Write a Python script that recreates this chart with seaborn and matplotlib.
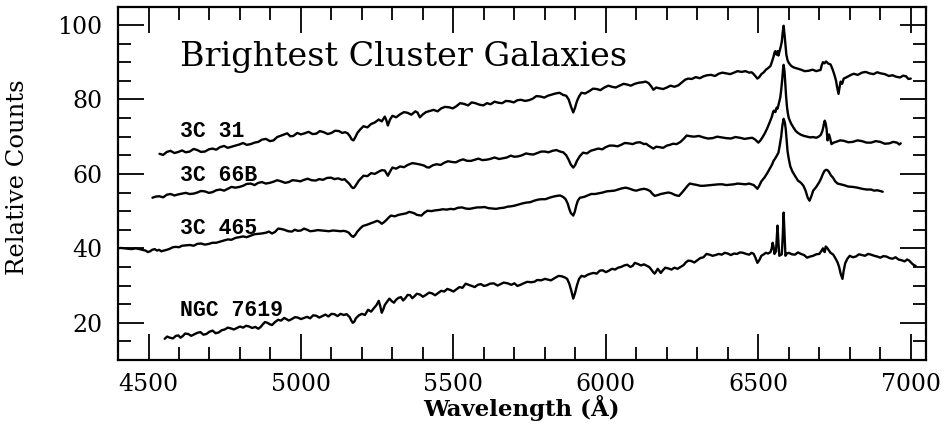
import pandas as pd
import seaborn as sns
import matplotlib.pyplot as plt
from matplotlib.ticker import MultipleLocator

# spectra: (wavelength in A, relative counts)
spec_3c31 = [
    (4536, 65.4), (4548, 65.1), (4560, 65.9), (4572, 66.2), (4585, 65.6), (4598, 65.9),
    (4610, 66.3), (4622, 65.8), (4635, 66.0), (4648, 66.7), (4660, 66.4), (4672, 65.9),
    (4685, 66.0), (4698, 66.6), (4710, 66.8), (4722, 66.5), (4735, 67.2), (4748, 67.5),
    (4760, 67.0), (4772, 67.3), (4785, 67.6), (4798, 67.9), (4810, 68.3), (4822, 67.8),
    (4835, 68.0), (4848, 68.4), (4860, 68.6), (4872, 69.2), (4885, 69.4), (4898, 68.8),
    (4910, 69.0), (4922, 69.9), (4935, 70.3), (4945, 70.6), (4955, 70.9), (4965, 70.1),
    (4975, 70.2), (4988, 71.0), (5000, 70.6), (5012, 70.9), (5025, 71.3), (5038, 70.7),
    (5050, 70.8), (5062, 71.5), (5075, 71.2), (5088, 70.7), (5100, 71.0), (5112, 71.6),
    (5125, 71.5), (5135, 71.0), (5145, 71.2), (5153, 70.9), (5160, 70.2), (5166, 69.3),
    (5172, 69.0), (5178, 69.8), (5185, 71.0), (5195, 72.0), (5205, 72.8), (5218, 72.5),
    (5230, 73.4), (5242, 73.8), (5255, 74.6), (5265, 74.1), (5275, 75.4), (5280, 74.4),
    (5285, 73.0), (5292, 74.6), (5300, 75.6), (5312, 75.2), (5325, 76.0), (5338, 76.6),
    (5350, 76.4), (5362, 75.9), (5375, 76.8), (5382, 76.5), (5390, 75.2), (5400, 76.0),
    (5410, 76.6), (5422, 76.9), (5435, 77.2), (5448, 76.8), (5460, 77.6), (5472, 78.0),
    (5485, 77.9), (5498, 77.6), (5510, 78.2), (5522, 79.0), (5535, 78.8), (5548, 78.4),
    (5560, 79.2), (5572, 79.0), (5585, 78.6), (5598, 78.4), (5610, 79.0), (5622, 78.7),
    (5635, 79.4), (5648, 79.1), (5660, 79.0), (5672, 79.6), (5685, 79.5), (5698, 79.2),
    (5710, 79.8), (5722, 79.9), (5735, 79.6), (5748, 79.8), (5760, 80.2), (5772, 80.9),
    (5785, 80.8), (5798, 80.5), (5810, 81.0), (5822, 81.3), (5835, 81.6), (5848, 81.8),
    (5860, 81.2), (5870, 81.0), (5878, 80.0), (5886, 78.0), (5893, 76.5), (5899, 77.8),
    (5905, 79.5), (5912, 80.8), (5920, 81.8), (5932, 81.6), (5945, 82.2), (5958, 82.9),
    (5970, 82.8), (5982, 82.5), (5995, 83.2), (6008, 83.7), (6020, 83.4), (6032, 83.2),
    (6045, 83.7), (6058, 84.2), (6070, 84.0), (6082, 83.7), (6095, 84.2), (6108, 84.5),
    (6120, 84.6), (6130, 84.8), (6140, 84.4), (6148, 83.6), (6156, 82.6), (6165, 83.2),
    (6175, 83.0), (6188, 82.8), (6200, 83.2), (6212, 83.7), (6225, 83.4), (6238, 83.8),
    (6250, 84.6), (6260, 85.3), (6270, 85.6), (6282, 85.5), (6295, 86.0), (6308, 85.7),
    (6320, 86.2), (6332, 86.5), (6345, 86.6), (6358, 86.3), (6370, 86.9), (6382, 87.2),
    (6395, 87.0), (6408, 86.8), (6420, 87.2), (6432, 87.6), (6445, 87.4), (6458, 87.6),
    (6470, 87.2), (6478, 87.3), (6485, 86.8), (6491, 86.2), (6497, 85.6), (6503, 86.0),
    (6510, 86.8), (6518, 87.3), (6525, 88.0), (6532, 88.4), (6540, 89.0), (6545, 90.2),
    (6550, 91.5), (6553, 92.6), (6556, 93.0), (6559, 92.1), (6562, 92.0), (6564, 93.0),
    (6566, 91.8), (6570, 93.0), (6573, 94.0), (6577, 95.5), (6580, 98.0), (6583, 99.8),
    (6587, 96.5), (6592, 92.0), (6596, 90.5), (6600, 89.8), (6608, 89.0), (6616, 88.6),
    (6628, 88.3), (6640, 88.0), (6652, 87.6), (6665, 87.7), (6678, 88.0), (6690, 87.6),
    (6698, 87.8), (6704, 87.9), (6708, 89.2), (6712, 90.0), (6717, 89.7), (6722, 90.2),
    (6730, 89.6), (6737, 89.4), (6744, 88.0), (6750, 86.5), (6755, 85.0), (6758, 83.5),
    (6763, 81.5), (6767, 83.5), (6770, 84.8), (6775, 84.2), (6780, 85.6), (6788, 85.9),
    (6795, 86.2), (6804, 86.6), (6813, 86.9), (6826, 86.6), (6840, 87.2), (6852, 87.4),
    (6865, 87.0), (6878, 86.8), (6890, 87.3), (6902, 87.0), (6915, 86.8), (6928, 86.3),
    (6940, 86.5), (6952, 86.1), (6965, 85.9), (6975, 86.4), (6985, 86.2), (6992, 85.5),
    (7000, 85.6),
]

spec_3c66b = [
    (4513, 53.6), (4524, 53.9), (4535, 54.0), (4548, 53.7), (4560, 54.4), (4572, 54.6),
    (4585, 54.2), (4598, 54.5), (4610, 54.7), (4622, 54.9), (4635, 54.6), (4648, 54.7),
    (4660, 55.0), (4672, 55.4), (4685, 55.3), (4698, 54.9), (4710, 55.1), (4722, 55.6),
    (4735, 55.8), (4748, 55.5), (4760, 56.0), (4772, 56.5), (4785, 56.3), (4798, 56.5),
    (4810, 56.8), (4822, 57.3), (4835, 57.4), (4848, 57.0), (4860, 57.6), (4872, 57.8),
    (4885, 57.4), (4898, 57.6), (4910, 57.9), (4922, 58.3), (4935, 58.0), (4948, 57.6),
    (4960, 57.8), (4972, 58.3), (4985, 58.2), (4998, 58.0), (5010, 58.4), (5022, 58.7),
    (5035, 58.3), (5048, 58.2), (5060, 58.6), (5072, 58.4), (5085, 58.9), (5098, 59.0),
    (5110, 58.6), (5122, 58.8), (5135, 58.4), (5143, 58.6), (5150, 58.0), (5158, 57.4),
    (5165, 56.6), (5170, 56.2), (5175, 56.3), (5182, 57.2), (5190, 58.2), (5198, 58.9),
    (5205, 59.5), (5218, 59.4), (5230, 60.2), (5242, 60.0), (5255, 60.6), (5265, 61.0),
    (5275, 60.9), (5280, 60.2), (5285, 59.5), (5292, 60.6), (5300, 61.7), (5312, 61.4),
    (5325, 62.0), (5338, 61.8), (5350, 62.4), (5365, 62.9), (5380, 62.7), (5392, 62.5),
    (5405, 62.2), (5412, 61.8), (5420, 61.7), (5432, 62.3), (5445, 62.6), (5458, 62.4),
    (5470, 63.0), (5482, 63.4), (5495, 63.2), (5508, 63.1), (5520, 63.6), (5532, 63.9),
    (5545, 63.5), (5558, 63.5), (5570, 63.8), (5582, 64.1), (5595, 63.7), (5608, 63.8),
    (5620, 64.0), (5635, 64.4), (5650, 64.0), (5662, 64.2), (5675, 64.4), (5688, 64.9),
    (5700, 64.6), (5712, 64.7), (5725, 65.0), (5738, 65.5), (5750, 65.3), (5762, 65.2),
    (5775, 65.6), (5788, 66.0), (5800, 66.0), (5812, 65.8), (5825, 66.2), (5838, 66.4),
    (5850, 66.0), (5860, 65.8), (5870, 65.0), (5878, 63.8), (5885, 62.5), (5893, 61.7),
    (5899, 62.3), (5905, 63.5), (5915, 64.8), (5925, 65.7), (5938, 65.5), (5950, 66.2),
    (5962, 66.5), (5975, 66.8), (5988, 66.6), (6000, 67.2), (6012, 67.6), (6025, 67.6),
    (6038, 67.4), (6050, 67.8), (6062, 68.3), (6075, 68.2), (6088, 68.0), (6100, 68.4),
    (6112, 68.5), (6125, 68.0), (6132, 68.1), (6140, 67.6), (6148, 67.2), (6156, 66.8),
    (6165, 67.3), (6175, 67.2), (6188, 67.0), (6200, 67.6), (6210, 67.8), (6220, 68.1),
    (6232, 68.0), (6245, 68.6), (6255, 69.4), (6265, 70.3), (6278, 70.1), (6290, 70.0),
    (6305, 70.2), (6320, 69.8), (6335, 69.5), (6350, 69.6), (6365, 70.0), (6380, 69.8),
    (6395, 69.6), (6410, 69.5), (6425, 69.9), (6440, 69.7), (6455, 69.4), (6470, 69.6),
    (6480, 69.7), (6490, 69.2), (6500, 68.4), (6507, 69.0), (6515, 70.0), (6522, 71.0),
    (6530, 72.4), (6538, 74.0), (6545, 75.5), (6549, 76.8), (6552, 77.0), (6556, 76.6),
    (6560, 77.8), (6563, 77.5), (6566, 78.5), (6569, 79.4), (6572, 80.5), (6575, 82.5),
    (6578, 85.0), (6581, 88.0), (6583, 89.3), (6586, 87.5), (6588, 85.0), (6591, 81.0),
    (6594, 78.0), (6597, 76.2), (6600, 75.0), (6607, 73.6), (6615, 72.5), (6622, 71.6),
    (6630, 71.0), (6640, 70.5), (6650, 70.2), (6660, 70.0), (6670, 69.8), (6680, 69.9),
    (6690, 69.7), (6698, 70.0), (6705, 70.5), (6710, 71.5), (6713, 72.5), (6716, 73.8),
    (6718, 74.3), (6721, 73.5), (6724, 72.0), (6727, 69.0), (6729, 69.6), (6732, 70.6),
    (6736, 69.4), (6740, 68.0), (6747, 68.4), (6755, 68.6), (6768, 69.0), (6780, 68.9),
    (6795, 68.5), (6810, 68.6), (6825, 69.0), (6840, 68.8), (6855, 68.4), (6870, 68.4),
    (6885, 68.8), (6900, 68.6), (6915, 68.1), (6930, 68.2), (6942, 68.6), (6955, 68.4),
    (6962, 67.9), (6967, 68.2),
]

spec_3c465 = [
    (4398, 40.0), (4410, 40.1), (4420, 40.0), (4432, 39.9), (4445, 39.8), (4458, 40.0),
    (4470, 39.8), (4480, 39.6), (4490, 39.4), (4498, 39.0), (4505, 39.2), (4512, 39.6),
    (4520, 39.8), (4528, 39.4), (4535, 39.6), (4542, 39.2), (4550, 39.4), (4560, 39.6),
    (4570, 39.9), (4580, 40.3), (4590, 40.4), (4600, 40.3), (4610, 40.7), (4622, 40.8),
    (4635, 40.9), (4648, 40.7), (4660, 41.2), (4672, 41.3), (4685, 41.0), (4698, 41.2),
    (4710, 41.5), (4722, 41.5), (4735, 41.8), (4748, 42.1), (4760, 42.4), (4772, 42.3),
    (4785, 42.8), (4798, 43.0), (4810, 43.2), (4822, 43.0), (4835, 43.4), (4848, 43.8),
    (4860, 43.9), (4872, 44.0), (4885, 44.2), (4895, 44.5), (4905, 44.0), (4915, 44.4),
    (4925, 45.3), (4935, 45.2), (4945, 45.0), (4958, 44.6), (4970, 44.5), (4980, 45.0),
    (4990, 44.7), (5000, 44.8), (5010, 45.3), (5020, 45.0), (5030, 44.6), (5042, 44.7),
    (5055, 44.9), (5068, 44.8), (5080, 44.7), (5092, 44.6), (5105, 44.8), (5118, 44.7),
    (5130, 44.6), (5140, 44.7), (5150, 44.5), (5157, 44.2), (5163, 43.6), (5168, 43.2),
    (5172, 43.1), (5178, 43.6), (5185, 44.5), (5195, 45.4), (5203, 46.0), (5215, 46.3),
    (5225, 46.6), (5238, 47.0), (5250, 47.4), (5258, 47.1), (5265, 46.6), (5272, 47.0),
    (5280, 47.6), (5288, 48.3), (5295, 48.8), (5308, 48.6), (5320, 49.0), (5332, 49.2),
    (5345, 49.4), (5355, 49.8), (5365, 49.6), (5372, 49.4), (5380, 49.0), (5388, 48.9),
    (5395, 48.8), (5405, 49.6), (5415, 50.1), (5428, 50.0), (5440, 50.2), (5452, 50.3),
    (5465, 50.5), (5478, 50.4), (5490, 50.6), (5502, 50.5), (5515, 50.9), (5528, 51.0),
    (5540, 50.7), (5552, 50.6), (5565, 50.8), (5578, 51.0), (5590, 51.0), (5602, 51.1),
    (5615, 50.8), (5628, 50.7), (5640, 50.6), (5652, 50.8), (5665, 50.9), (5678, 51.2),
    (5690, 51.3), (5702, 51.5), (5715, 51.8), (5728, 52.1), (5740, 52.3), (5752, 52.4),
    (5765, 52.8), (5778, 53.1), (5790, 53.2), (5802, 53.2), (5815, 53.6), (5828, 53.9),
    (5840, 54.1), (5850, 54.2), (5860, 53.8), (5868, 53.2), (5875, 52.0), (5880, 50.6),
    (5885, 49.5), (5893, 48.8), (5898, 49.8), (5903, 51.5), (5908, 52.8), (5915, 53.6),
    (5928, 53.8), (5940, 54.2), (5952, 54.6), (5965, 54.6), (5978, 54.8), (5990, 55.0),
    (6002, 55.3), (6015, 55.4), (6028, 55.5), (6040, 55.8), (6052, 56.1), (6065, 56.3),
    (6075, 56.1), (6085, 55.8), (6092, 55.6), (6100, 55.5), (6112, 55.8), (6125, 56.0),
    (6135, 55.8), (6145, 55.4), (6152, 54.7), (6160, 54.1), (6170, 54.3), (6180, 54.6),
    (6192, 54.8), (6205, 55.0), (6215, 54.8), (6225, 54.4), (6232, 54.2), (6240, 54.1),
    (6250, 55.0), (6260, 56.0), (6268, 56.8), (6275, 57.4), (6288, 57.2), (6300, 57.0),
    (6310, 56.8), (6320, 56.8), (6332, 56.9), (6345, 57.0), (6358, 57.1), (6370, 57.2),
    (6382, 57.2), (6395, 57.0), (6408, 57.1), (6420, 57.2), (6432, 57.4), (6445, 57.3),
    (6458, 57.2), (6470, 57.4), (6478, 57.2), (6485, 57.0), (6491, 56.5), (6497, 56.0),
    (6503, 56.8), (6510, 58.0), (6520, 59.0), (6530, 60.3), (6538, 61.5), (6545, 62.5),
    (6550, 63.5), (6555, 64.1), (6560, 64.8), (6566, 65.7), (6570, 67.5), (6575, 70.0),
    (6579, 73.0), (6583, 74.8), (6587, 73.8), (6590, 72.0), (6593, 69.0), (6596, 66.0),
    (6600, 64.0), (6605, 62.0), (6612, 60.6), (6620, 59.5), (6630, 58.2), (6640, 57.6),
    (6648, 56.8), (6655, 55.5), (6662, 53.6), (6668, 52.8), (6674, 54.0), (6680, 55.5),
    (6690, 56.5), (6700, 57.8), (6706, 58.8), (6712, 60.0), (6717, 60.8), (6722, 61.1),
    (6727, 61.0), (6732, 60.5), (6738, 59.6), (6745, 59.0), (6752, 58.0), (6760, 57.4),
    (6770, 57.2), (6780, 57.0), (6795, 56.6), (6810, 56.5), (6825, 56.3), (6840, 56.0),
    (6855, 55.8), (6870, 55.8), (6880, 55.5), (6890, 55.6), (6900, 55.4), (6908, 55.2),
]

spec_ngc7619 = [
    (4553, 15.7), (4561, 16.3), (4570, 16.0), (4580, 15.8), (4590, 16.5), (4598, 16.6),
    (4605, 16.0), (4612, 16.4), (4620, 17.1), (4630, 17.0), (4640, 16.5), (4650, 16.9),
    (4660, 17.3), (4670, 17.5), (4680, 16.8), (4690, 17.0), (4700, 17.6), (4710, 17.9),
    (4720, 17.2), (4730, 17.4), (4740, 18.0), (4750, 18.2), (4760, 18.7), (4770, 18.5),
    (4780, 18.2), (4790, 18.6), (4800, 19.0), (4810, 18.7), (4820, 19.2), (4830, 19.0),
    (4840, 18.6), (4850, 18.9), (4860, 18.4), (4868, 18.9), (4875, 19.6), (4882, 20.2),
    (4890, 20.0), (4898, 19.6), (4905, 19.4), (4915, 20.2), (4925, 20.8), (4935, 20.6),
    (4945, 21.3), (4952, 21.0), (4960, 20.6), (4970, 21.0), (4980, 21.5), (4990, 21.4),
    (5000, 21.0), (5010, 21.3), (5020, 21.6), (5030, 21.2), (5040, 22.0), (5050, 21.9),
    (5060, 21.4), (5070, 21.8), (5080, 22.2), (5090, 21.7), (5100, 22.4), (5110, 22.3),
    (5120, 21.8), (5130, 22.4), (5140, 22.1), (5150, 22.3), (5160, 21.5), (5165, 20.6),
    (5170, 20.0), (5175, 20.3), (5180, 21.2), (5190, 22.0), (5200, 22.4), (5210, 22.1),
    (5220, 23.5), (5230, 23.0), (5240, 24.0), (5248, 24.8), (5255, 25.9), (5260, 24.5),
    (5265, 22.7), (5270, 23.6), (5275, 24.8), (5282, 25.6), (5290, 26.5), (5298, 25.8),
    (5305, 25.4), (5312, 26.2), (5320, 26.7), (5328, 26.9), (5335, 26.0), (5342, 26.6),
    (5350, 27.5), (5358, 27.4), (5365, 26.6), (5372, 27.1), (5380, 27.8), (5390, 27.6),
    (5400, 27.0), (5410, 27.5), (5420, 28.1), (5430, 27.9), (5440, 27.4), (5450, 28.0),
    (5460, 28.6), (5470, 28.4), (5480, 29.1), (5490, 28.8), (5500, 28.4), (5510, 29.0),
    (5520, 29.6), (5530, 29.4), (5540, 30.5), (5550, 30.2), (5560, 29.9), (5570, 29.6),
    (5580, 30.2), (5590, 30.4), (5600, 29.9), (5610, 30.1), (5620, 30.5), (5632, 30.6),
    (5645, 30.0), (5655, 30.4), (5665, 30.8), (5678, 30.6), (5690, 30.2), (5700, 30.6),
    (5710, 29.9), (5720, 30.2), (5730, 30.6), (5742, 31.0), (5755, 30.9), (5765, 31.0),
    (5775, 31.5), (5788, 31.4), (5800, 31.8), (5810, 31.6), (5820, 31.4), (5832, 32.0),
    (5845, 32.6), (5855, 32.5), (5865, 32.2), (5873, 31.8), (5880, 30.5), (5887, 28.5),
    (5893, 26.5), (5899, 28.0), (5905, 30.0), (5912, 31.8), (5920, 32.6), (5930, 32.4),
    (5940, 32.9), (5950, 33.2), (5960, 33.4), (5970, 33.2), (5980, 34.0), (5990, 34.1),
    (6000, 33.6), (6010, 34.0), (6020, 34.5), (6030, 34.3), (6040, 34.8), (6050, 35.0),
    (6060, 35.4), (6070, 35.6), (6080, 35.0), (6088, 35.3), (6095, 36.1), (6105, 35.8),
    (6115, 35.4), (6125, 35.7), (6135, 35.3), (6142, 35.0), (6150, 34.2), (6155, 33.6),
    (6160, 33.2), (6165, 33.8), (6170, 34.5), (6175, 34.0), (6180, 33.4), (6188, 34.2),
    (6195, 34.8), (6205, 34.6), (6215, 34.3), (6225, 34.8), (6235, 34.5), (6245, 35.0),
    (6255, 35.5), (6262, 36.2), (6270, 36.7), (6280, 36.6), (6290, 36.2), (6300, 36.8),
    (6310, 37.4), (6320, 37.6), (6330, 38.5), (6340, 38.3), (6350, 38.0), (6360, 38.2),
    (6370, 38.5), (6380, 38.3), (6390, 38.8), (6400, 38.6), (6410, 38.2), (6420, 38.6),
    (6430, 38.5), (6440, 38.9), (6450, 38.8), (6460, 38.5), (6470, 38.3), (6478, 38.8),
    (6485, 38.5), (6491, 37.4), (6497, 36.1), (6503, 36.8), (6510, 38.0), (6518, 38.4),
    (6525, 38.8), (6532, 38.6), (6540, 39.0), (6544, 40.0), (6547, 41.5), (6550, 40.4),
    (6553, 38.5), (6558, 39.2), (6563, 46.1), (6566, 41.5), (6569, 38.0), (6573, 38.2),
    (6577, 38.4), (6580, 43.0), (6583, 49.6), (6586, 44.0), (6589, 38.0), (6594, 38.6),
    (6600, 38.8), (6610, 38.4), (6620, 38.3), (6630, 38.9), (6640, 38.5), (6650, 38.2),
    (6660, 37.5), (6670, 37.8), (6680, 38.0), (6690, 38.4), (6700, 38.5), (6706, 39.2),
    (6712, 40.0), (6715, 39.2), (6718, 39.0), (6721, 40.5), (6725, 40.2), (6731, 39.5),
    (6737, 38.8), (6746, 38.3), (6755, 37.0), (6760, 36.2), (6765, 35.0), (6770, 33.2),
    (6776, 31.8), (6780, 34.0), (6785, 36.0), (6792, 37.2), (6800, 38.0), (6810, 37.6),
    (6820, 37.8), (6830, 38.4), (6840, 38.2), (6850, 38.0), (6860, 38.5), (6870, 38.3),
    (6880, 38.0), (6890, 37.8), (6900, 37.5), (6910, 37.9), (6920, 37.8), (6930, 37.4),
    (6940, 37.2), (6950, 37.6), (6960, 37.0), (6970, 36.8), (6980, 36.5), (6988, 37.0),
    (6995, 36.7), (7003, 36.0), (7010, 35.5), (7016, 35.3),
]

names = ["3C 31", "3C 66B", "3C 465", "NGC 7619"]
label_y = [69.9, 58.0, 43.9, 21.7]
title = "Brightest Cluster Galaxies"

rows = []
for name, spec in zip(names, [spec_3c31, spec_3c66b, spec_3c465, spec_ngc7619]):
    for w, f in spec:
        rows.append({"galaxy": name, "wave": w, "counts": f})
df = pd.DataFrame(rows)

sns.set_style("ticks")
plt.rcParams["font.family"] = ["DejaVu Serif"]
plt.rcParams["text.color"] = "black"
plt.rcParams["xtick.color"] = "black"
plt.rcParams["ytick.color"] = "black"

fig = plt.figure(figsize=(9.48, 4.26), dpi=100)
ax = fig.add_axes([0.1245, 0.1549, 0.8523, 0.8275])

for name in names:
    sns.lineplot(data=df[df.galaxy == name], x="wave", y="counts", sort=False,
                 estimator=None, color="black", linewidth=1.7, ax=ax)

ax.set_xlim(4400, 7050)
ax.set_ylim(10, 104.7)
ax.xaxis.set_major_locator(MultipleLocator(500))
ax.xaxis.set_minor_locator(MultipleLocator(100))
ax.yaxis.set_major_locator(MultipleLocator(20))
ax.yaxis.set_minor_locator(MultipleLocator(5))
ax.tick_params(which="both", direction="in", top=True, right=True,
               width=1.3, colors="black", labelsize=17)
ax.tick_params(which="major", length=19, pad=11)
ax.tick_params(axis="x", which="major", pad=9)
ax.tick_params(which="minor", length=9.5)
for s in ax.spines.values():
    s.set_linewidth(1.6)
    s.set_color("black")
ax.set_xlabel("")
ax.set_ylabel("")

for name, y in zip(names, label_y):
    ax.text(4602, y, name, family="Liberation Mono", fontweight="bold",
            fontsize=15.5, va="baseline", ha="left")
ax.text(4602, 89.1, title, fontsize=24, va="baseline", ha="left")

fig.text(18 / 948, 0.5845, "Relative Counts", rotation=90, fontsize=17.5,
         ha="center", va="center")
fig.text(0.5496, 0.024, "Wavelength (Å)", fontsize=16.5, fontweight="bold",
         ha="center", va="baseline")

fig.savefig("out.png", dpi=100)
